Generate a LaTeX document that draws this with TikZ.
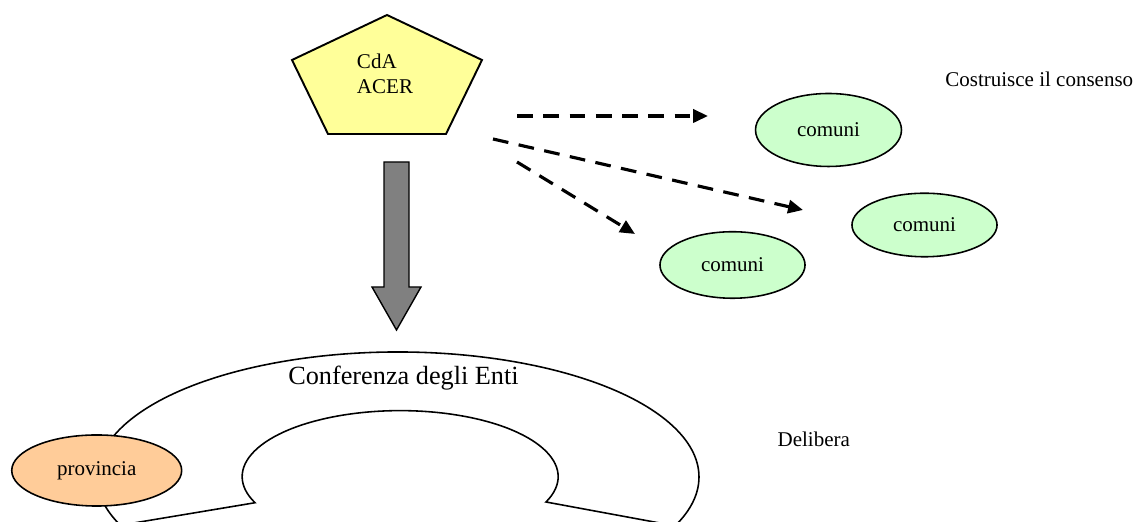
\documentclass[tikz,border=0pt]{standalone}
\usepackage{fontspec}
\setmainfont{Liberation Serif}
\usetikzlibrary{arrows.meta,calc,positioning,shapes.geometric}
\definecolor{comunegreen}{RGB}{204,255,204}
\definecolor{provinciaorange}{RGB}{255,204,153}
\definecolor{aceryellow}{RGB}{255,255,153}
\definecolor{blockgray}{RGB}{128,128,128}

\begin{document}
\begin{tikzpicture}[
    x=0.5714pt, y=0.5714pt,
    ente/.style={ellipse, draw, line width=0.9pt, inner sep=0pt, font=\fontsize{12pt}{14.5pt}\selectfont},
    comune/.style={ente, fill=comunegreen},
    provincianode/.style={ente, fill=provinciaorange},
    nota/.style={anchor=base west, inner sep=0pt, font=\fontsize{12pt}{14.5pt}\selectfont},
    consenso/.style={line width=1.8pt, dash pattern=on 9pt off 6pt, -{Triangle[length=8.5pt,width=7.5pt]}}
]
\useasboundingbox (0,0) rectangle (1136,522);

% Conferenza degli Enti (arc shape)
\draw[line width=0.9pt] ($(398,45)+(202.7:301 and 125)$)
    arc[start angle=202.7, end angle=-23, x radius=301, y radius=125]
    -- (546,20)
    arc[start angle=-22.6, end angle=203.3, x radius=158, y radius=66]
    -- cycle;
\node[anchor=base, inner sep=0pt, font=\fontsize{15pt}{18pt}\selectfont] (conferenza) at (403.5,137) {Conferenza degli Enti};

% CdA ACER
\draw[fill=aceryellow, line width=1.1pt] (387,507) -- (482,462) -- (446,388) -- (328,388) -- (292,462) -- cycle;
\node[align=left, inner sep=0pt, font=\fontsize{12pt}{14.5pt}\selectfont] (cda) at (385,448.4) {CdA\\ACER};

% Block arrow down
\draw[fill=blockgray, line width=0.8pt] (384,360) -- (409,360) -- (409,235) -- (421,235)
    -- (396.5,192) -- (372,235) -- (384,235) -- cycle;

% Comuni
\node[comune, minimum width=83.4pt, minimum height=41.7pt] (comuniA) at (828.5,392) {comuni};
\node[comune, minimum width=82.9pt, minimum height=36.3pt] (comuniB) at (924.5,297) {comuni};
\node[comune, minimum width=82.9pt, minimum height=38pt] (comuniC) at (732.5,257) {comuni};

% Provincia
\node[provincianode, minimum width=97.1pt, minimum height=40.6pt] (provincia) at (96.7,51.5) {provincia};

% Dashed arrows
\coordinate (s1) at (517,406); \coordinate (t1) at (708,406);
\coordinate (s2) at (493,383); \coordinate (t2) at (803,312);
\coordinate (s3) at (517,360); \coordinate (t3) at (635,288);
\foreach \i in {1,2,3} {
    \draw[consenso] (s\i) -- (t\i);
}

% Notes
\node[nota] (costruisce) at (945,435.3) {Costruisce il consenso};
\node[nota] (delibera) at (777.3,75.3) {Delibera};

\end{tikzpicture}
\end{document}
